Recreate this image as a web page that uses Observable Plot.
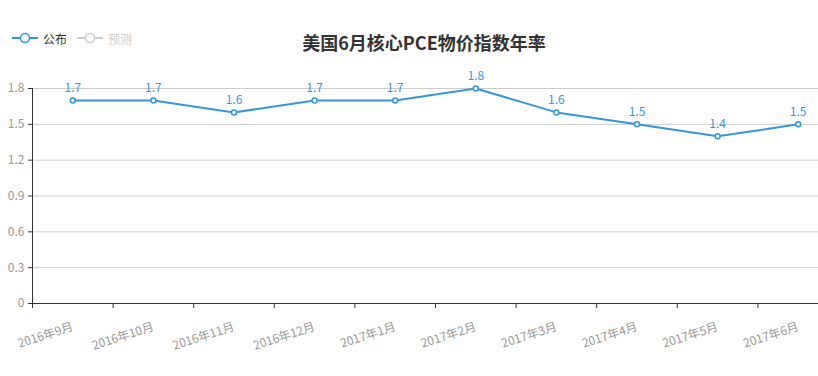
<!DOCTYPE html>
<html>
<head>
<meta charset="utf-8">
<script src="https://cdn.jsdelivr.net/npm/d3@7"></script>
<script src="https://cdn.jsdelivr.net/npm/@observablehq/plot@0.6"></script>
<style>
  html, body { margin: 0; padding: 0; background: #fff; }
  body { font-family: "Noto Sans CJK SC", "Noto Sans", sans-serif; }
  #wrap { position: relative; width: 818px; height: 376px; overflow: hidden; }
  #title { position: absolute; left: 0; width: 848px; top: 30px; text-align: center;
           font-size: 18px; font-weight: bold; color: #333; line-height: 24px; }
  .leg { position: absolute; top: 30px; height: 16px; display: flex; align-items: center; font-size: 12px; }
  .leg svg { margin-right: 5px; }
  #chart { position: absolute; left: 0; top: 0; }
</style>
</head>
<body>
<div id="wrap">
  <div id="chart"></div>
  <div id="title"></div>
  <div id="legend"></div>
</div>
<script>
const titleText = "美国6月核心PCE物价指数年率";
const categories = ["2016年9月", "2016年10月", "2016年11月", "2016年12月", "2017年1月", "2017年2月", "2017年3月", "2017年4月", "2017年5月", "2017年6月"];
const published = [1.7, 1.7, 1.6, 1.7, 1.7, 1.8, 1.6, 1.5, 1.4, 1.5];
const yTicks = [0, 0.3, 0.6, 0.9, 1.2, 1.5, 1.8];
const legendItems = ["公布", "预测"];

const blue = "#3398DB";
const data = categories.map((c, i) => ({cat: c, idx: i + 0.5, value: published[i]}));
const boundaries = d3.range(categories.length + 1);

const chart = Plot.plot({
  width: 818,
  height: 376,
  marginLeft: 32,
  marginRight: 0,
  marginTop: 88,
  marginBottom: 73,
  style: {fontFamily: "'Noto Sans CJK SC', sans-serif", fontSize: "12px", background: "transparent"},
  x: {type: "linear", domain: [0, categories.length], range: [32, 32 + 80.6 * categories.length], axis: null, label: null},
  y: {domain: [0, 1.8], axis: null, label: null},
  marks: [
    Plot.gridY(yTicks.filter(d => d > 0), {stroke: "#ccc", strokeOpacity: 1}),
    Plot.axisY({ticks: yTicks, tickSize: 4, tickPadding: 4, stroke: "#333", fill: "#999", strokeOpacity: 1,
                tickFormat: d => d === 0 ? "0" : d.toFixed(1), fontSize: 12, label: null}),
    Plot.axisX({ticks: boundaries, tickSize: 5, tickFormat: () => "", stroke: "#333", strokeOpacity: 1, label: null}),
    Plot.ruleY([0], {stroke: "#333"}),
    Plot.ruleX([0], {stroke: "#333"}),
    Plot.text(data, {x: "idx", y: 0, text: "cat", textAnchor: "end", rotate: -18, dy: 23, dx: 0,
                     fill: "#999", fontSize: 12}),
    Plot.line(data, {x: "idx", y: "value", stroke: blue, strokeWidth: 2}),
    Plot.dot(data, {x: "idx", y: "value", r: 2.5, fill: "#fff", stroke: blue, strokeWidth: 1.5}),
    Plot.text(data, {x: "idx", y: "value", text: d => d.value.toFixed(1), dy: -12, fill: blue, fontSize: 12})
  ]
});
document.getElementById("chart").appendChild(chart);
document.getElementById("title").textContent = titleText;

const legend = document.getElementById("legend");
const legColors = [[blue, "#333"], ["#ccc", "#ccc"]];
const legLeft = [12, 77];
legendItems.forEach((name, i) => {
  const el = document.createElement("div");
  el.className = "leg";
  el.style.left = legLeft[i] + "px";
  el.innerHTML = `<svg width="26" height="14"><line x1="0" x2="26" y1="7" y2="7" stroke="${legColors[i][0]}" stroke-width="2"/><circle cx="13" cy="7" r="4.5" fill="#fff" stroke="${legColors[i][0]}" stroke-width="1.5"/></svg><span style="color:${legColors[i][1]}">${name}</span>`;
  legend.appendChild(el);
});
</script>
</body>
</html>
